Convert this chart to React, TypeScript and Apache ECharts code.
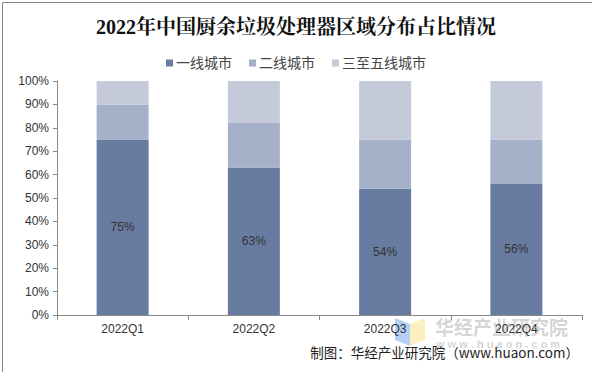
import React, { useEffect, useRef } from "react";
import * as echarts from "echarts";

const categories = ["2022Q1", "2022Q2", "2022Q3", "2022Q4"];
const tier1 = [75, 63, 54, 56];
const tier2 = [15, 19, 21, 19];
const tier3to5 = [10, 18, 25, 25];
const seriesNames = ["一线城市", "二线城市", "三至五线城市"];
const yTicks = [0, 10, 20, 30, 40, 50, 60, 70, 80, 90, 100];

export default function App() {
  const ref = useRef<HTMLDivElement>(null);
  useEffect(() => {
    document.body.style.margin = "0";
    const chart = echarts.init(ref.current!, null, { renderer: "svg" });
    const font = "Arial, 'Liberation Sans', 'Noto Sans CJK SC', sans-serif";
    chart.setOption({
      animation: false,
      backgroundColor: "#fff",
      title: {
        text: "2022年中国厨余垃圾处理器区域分布占比情况",
        left: "center",
        top: 12,
        textStyle: {
          fontFamily: "'Liberation Serif', 'Noto Serif CJK SC', 'Noto Sans CJK SC', serif",
          fontSize: 20,
          fontWeight: "bold",
          color: "#111",
        },
      },
      legend: {
        top: 51,
        left: "center",
        itemWidth: 7,
        itemHeight: 7,
        itemGap: 17,
        icon: "rect",
        textStyle: { fontFamily: font, fontSize: 14, color: "#444", padding: [0, 0, 0, -2] },
        data: seriesNames,
      },
      grid: { left: 57, right: 10, top: 81, bottom: 57, containLabel: false },
      xAxis: {
        type: "category",
        data: categories,
        axisLine: { lineStyle: { color: "#888" } },
        axisTick: { show: true, alignWithLabel: false, length: 5, lineStyle: { color: "#888" } },
        axisLabel: { fontFamily: font, fontSize: 12, color: "#333", margin: 8 },
      },
      yAxis: {
        type: "value",
        min: 0,
        max: 100,
        interval: 10,
        axisLine: { show: true, lineStyle: { color: "#888" } },
        axisTick: { show: true, length: 4, lineStyle: { color: "#888" } },
        splitLine: { show: false },
        axisLabel: {
          fontFamily: font,
          fontSize: 12,
          color: "#333",
          margin: 8,
          formatter: (v: number) => (yTicks.includes(v) ? v + "%" : ""),
        },
      },
      series: [
        {
          name: seriesNames[0],
          type: "bar",
          stack: "a",
          barWidth: 52,
          data: tier1,
          itemStyle: { color: "#687BA0" },
          label: {
            show: true,
            position: "inside",
            formatter: "{c}%",
            fontFamily: font,
            fontSize: 12,
            color: "#333",
          },
        },
        {
          name: seriesNames[1],
          type: "bar",
          stack: "a",
          barWidth: 52,
          data: tier2,
          itemStyle: { color: "#A5B1C9" },
        },
        {
          name: seriesNames[2],
          type: "bar",
          stack: "a",
          barWidth: 52,
          data: tier3to5,
          itemStyle: { color: "#C4CAD9" },
        },
      ],
      graphic: [
        {
          type: "rect",
          left: 0,
          top: 0,
          shape: { x: 0.5, y: 0.5, width: 591, height: 371 },
          style: { fill: "none", stroke: "#888", lineWidth: 1 },
          silent: true,
          z: -1,
        },
        {
          type: "polygon",
          shape: { points: [[395, 318], [410, 324], [410, 346], [395, 340]] },
          style: { fill: "rgba(120,170,240,0.55)" },
          silent: true,
          z: -1,
        },
        {
          type: "polygon",
          shape: { points: [[410, 324], [425, 318], [425, 340], [410, 346]] },
          style: { fill: "rgba(250,225,140,0.55)" },
          silent: true,
          z: -1,
        },
        {
          type: "text",
          x: 435,
          y: 317,
          style: {
            text: "华经产业研究院",
            font: "bold 19px 'Noto Sans CJK SC', sans-serif",
            fill: "rgba(160,160,160,0.45)",
          },
          silent: true,
          z: -1,
        },
        {
          type: "text",
          x: 436,
          y: 338,
          style: {
            text: "w w w . h u a o n . c o m",
            font: "bold 11px Arial, sans-serif",
            fill: "rgba(160,160,160,0.45)",
          },
          silent: true,
          z: -1,
        },
        {
          type: "text",
          right: 13,
          top: 345,
          style: {
            text: "制图：华经产业研究院（www.huaon.com）",
            font: "13.5px 'Noto Sans CJK SC', sans-serif",
            fill: "#222",
          },
        },
      ],
    });
    return () => chart.dispose();
  }, []);
  return (
    <div
      ref={ref}
      style={{ position: "absolute", left: 0, top: 0, width: 592, height: 372 }}
    />
  );
}
